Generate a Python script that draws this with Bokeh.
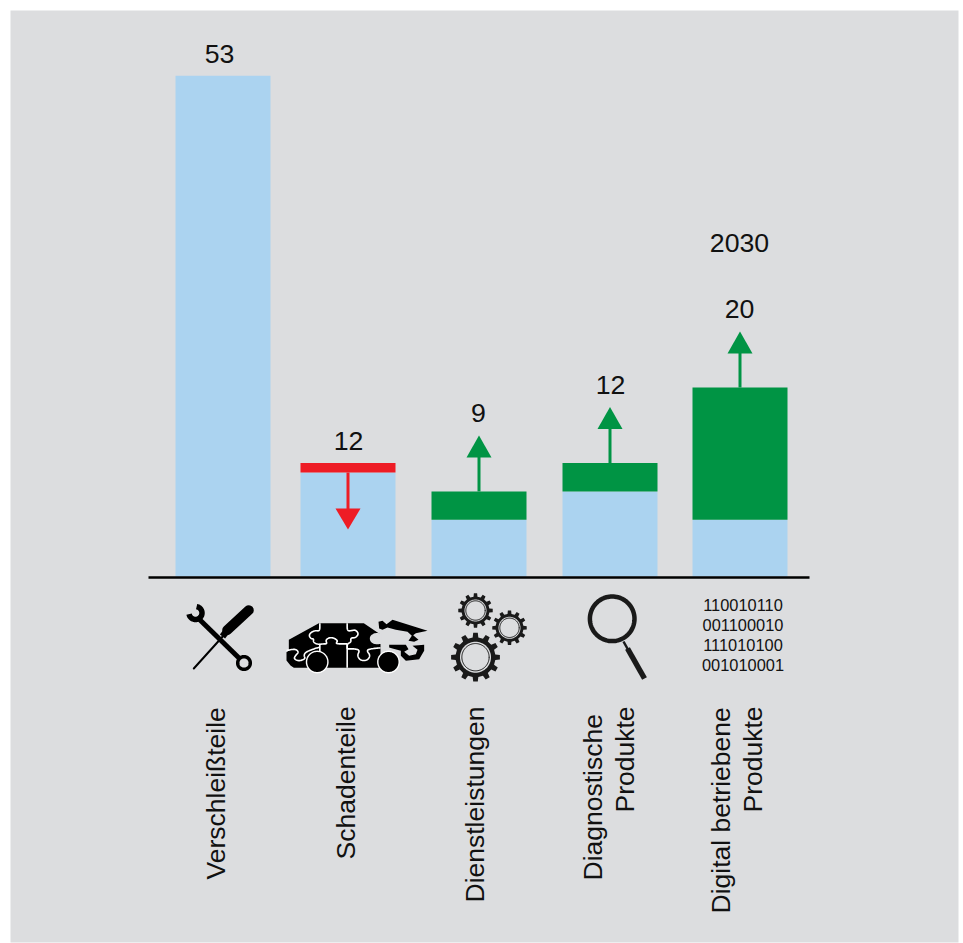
import numpy as np
from bokeh.plotting import figure
from bokeh.models import Range1d
from bokeh.core.properties import value
from bokeh.embed import file_html
from bokeh.resources import INLINE

# ---- data ----
categories = ["Verschleißteile", "Schadenteile", "Dienstleistungen", "Diagnostische Produkte", "Digital betriebene Produkte"]
base_values = [53, 11, 6, 9, 6]
top_values = [53, 12, 9, 12, 20]
value_labels = ["53", "12", "9", "12", "20"]
year_label = "2030"
binary_lines = ["110010110", "001100010", "111010100", "001010001"]

# ---- layout (picture pixels; Bokeh's page template sets no body margin) ----
W, H = 963, 943
BASE_PX, PX_PER_UNIT = 576.0, 9.45
centers = [222.5, 347.5, 478.5, 609.5, 739.5]
BAR_W = 95
FONT = value("Liberation Sans")
BG, BLUE, GREEN, RED = "#DCDDDF", "#ABD3F0", "#009444", "#EE1C25"
DARK = "#111111"

p = figure(width=W, height=H, output_backend="svg", toolbar_location=None,
           x_range=Range1d(0, W),
           y_range=Range1d((BASE_PX - H) / PX_PER_UNIT, BASE_PX / PX_PER_UNIT),
           x_axis_type=None, y_axis_type=None, min_border=0, outline_line_color=None,
           background_fill_color="white", border_fill_color="white")
p.grid.visible = False
p.extra_y_ranges = {"px": Range1d(H, 0)}


def poly(xs, ys, color="black"):
    p.patch(list(xs), list(ys), fill_color=color, line_color=None, y_range_name="px")


def stroke(xs, ys, width, color="black", cap="round"):
    p.line(list(xs), list(ys), line_color=color, line_width=width, line_cap=cap,
           line_join="round", y_range_name="px")


def disc(cx, cy, r, color="black"):
    t = np.linspace(0, 2 * np.pi, 73)
    poly(cx + r * np.cos(t), cy + r * np.sin(t), color)


def ring(cx, cy, r, width, color="black"):
    t = np.linspace(0, 2 * np.pi, 97)
    stroke(cx + r * np.cos(t), cy + r * np.sin(t), width, color)


def smooth(xs, ys, rounds=3):
    """Corner cutting, only to round the outlines of the hand-traced icon."""
    x, y = np.asarray(xs, float), np.asarray(ys, float)
    for _ in range(rounds):
        qx = np.column_stack([0.75 * x[:-1] + 0.25 * x[1:], 0.25 * x[:-1] + 0.75 * x[1:]]).ravel()
        qy = np.column_stack([0.75 * y[:-1] + 0.25 * y[1:], 0.25 * y[:-1] + 0.75 * y[1:]]).ravel()
        x = np.concatenate([[x[0]], qx, [x[-1]]])
        y = np.concatenate([[y[0]], qy, [y[-1]]])
    return x, y


# panel
p.quad(left=[10], right=[958], top=[10], bottom=[942], fill_color=BG, line_color=None, y_range_name="px")

# bars
p.vbar(x=centers, width=BAR_W, bottom=0, top=base_values, fill_color=BLUE, line_color=None)
for c, b, t, col in zip(centers[1:], base_values[1:], top_values[1:], [RED, GREEN, GREEN, GREEN]):
    p.vbar(x=[c], width=BAR_W, bottom=b, top=t, fill_color=col, line_color=None)

# baseline
stroke([148, 809], [577, 577], 2.5, "black", "butt")


def y_of(v):
    return BASE_PX - v * PX_PER_UNIT


# arrows
c = centers[1]
stroke([c, c], [y_of(base_values[1]), 510], 3, RED, "butt")
poly([c - 12.5, c + 12.5, c], [508, 508, 529], RED)
for c, t in zip(centers[2:], top_values[2:]):
    yt = y_of(t)
    stroke([c, c], [yt, yt - 36], 3, GREEN, "butt")
    poly([c - 12.5, c + 12.5, c], [yt - 34, yt - 34, yt - 56], GREEN)

# value labels
p.text(x=[219, 348, 478, 610, 739, 739], y=[53, 440, 412, 384, 308, 242],
       text=value_labels + [year_label], text_font=FONT, text_font_size="26.7px",
       text_color=DARK, text_align="center", text_baseline="middle", y_range_name="px")

# rotated category labels
lab_x = [215, 345, 474, 592, 624, 720, 752]
lab_y = [879, 859, 902, 880, 812, 913, 812]
lab_t = [categories[0], categories[1], categories[2], "Diagnostische", "Produkte", "Digital betriebene", "Produkte"]
p.text(x=lab_x, y=lab_y, text=lab_t, angle=np.pi / 2, text_font=FONT, text_font_size="26.5px",
       text_color=DARK, text_align="left", text_baseline="middle", y_range_name="px")

# binary icon
p.text(x=[742.5] * 4, y=[604, 624, 644, 664], text=binary_lines, text_font=FONT, text_font_size="16.4px",
       text_color=DARK, text_align="center", text_baseline="middle", y_range_name="px")

# tools icon
stroke([248.3, 226.7], [609.7, 629.7], 10)
stroke([228, 222], [628, 636], 6.5, cap="butt")
stroke([224, 193.3], [634, 668], 2)
stroke([198, 239], [618, 658], 5, cap="butt")
ta = np.radians(np.linspace(-80, 170, 40))
stroke(195 + 6.5 * np.cos(ta), 612.5 + 6.5 * np.sin(ta), 5.5, "black", "butt")
ring(243.5, 662.5, 6.3, 3.5)

# magnifier icon
ring(611.7, 618.3, 22.3, 4.5, "#1a1a1a")
stroke([623, 628], [641, 650], 2.5, "#1a1a1a", "butt")
stroke([627, 644], [648, 678], 5.5, "#1a1a1a", "butt")


# gears
def gear(cx, cy, R, root, hole, n=12):
    da = 2 * np.pi / n
    a = np.concatenate([[k * da - 0.27 * da, k * da - 0.18 * da, k * da + 0.18 * da, k * da + 0.27 * da] for k in range(n)])
    rr = np.tile([root, R, R, root], n)
    poly(cx + rr * np.cos(a), cy + rr * np.sin(a), "#1a1a1a")
    disc(cx, cy, hole, BG)
    ring(cx, cy, hole * 0.88, 1.0, "#1a1a1a")


gear(475, 610, 17.3, 14, 11)
gear(509, 627.3, 17.3, 14, 11)
gear(475, 656.7, 24.5, 20, 15.5)


def zx(v):
    return 280 + np.asarray(v, float) / 3


def zy(v):
    return 610 + np.asarray(v, float) / 3


def rx(v):
    return 372 + np.asarray(v, float) / 3


def ry(v):
    return 612 + np.asarray(v, float) / 3


# body
poly(zx([25, 115, 250, 300, 300, 300, 40, 30, 18, 18, 25]),
     zy([88, 38, 38, 72, 100, 172, 172, 165, 150, 125, 120]))
# rear window bite
kx, ky = smooth([304, 285, 268, 268, 282, 304], [70, 66, 76, 92, 102, 100])
poly(zx(kx), zy(ky), BG)
# tailgate
poly(rx([18, 30, 42, 60, 165, 130, 122, 138, 125, 108, 118, 105, 70, 45, 30, 20]),
     ry([28, 25, 35, 22, 55, 62, 68, 82, 88, 85, 70, 58, 52, 45, 52, 48]))
# rear bumper, curling round its jigsaw socket
poly(rx([50, 100, 108, 95, 110, 130, 135, 120, 155, 155, 140, 100, 85, 85, 60, 50]),
     ry([97, 97, 110, 118, 130, 125, 112, 100, 97, 115, 140, 145, 130, 115, 108, 105]))

# jigsaw seams
seam = 1.6
for sx, sy in [
    ([118, 118, 105, 92, 85, 92, 100, 98, 112, 130, 140, 135, 150, 165, 172, 165, 190, 200],
     [38, 62, 60, 65, 75, 85, 85, 95, 102, 100, 100, 88, 80, 85, 92, 100, 100, 100]),
    ([200, 200, 215, 225, 235, 225, 210, 212, 200, 200],
     [38, 62, 60, 58, 70, 82, 82, 95, 100, 115]),
    ([18, 45, 55, 45, 40, 55, 75, 70, 75, 100, 118],
     [120, 115, 125, 135, 145, 152, 145, 135, 125, 115, 110]),
    ([200, 225, 238, 230, 240, 260, 270, 258, 270, 300],
     [115, 115, 120, 135, 150, 150, 135, 120, 115, 112]),
]:
    qx, qy = smooth(sx, sy)
    stroke(zx(qx), zy(qy), seam, "white", "butt")
stroke(zx([118, 118]), zy([100, 172]), seam, "white", "butt")
stroke(zx([200, 200]), zy([100, 172]), seam, "white", "butt")

for wx in (316.7, 388):
    disc(wx, 661.5, 11.4, "white")
    disc(wx, 661.5, 10, "black")

open("out.html", "w").write(file_html(p, INLINE))
